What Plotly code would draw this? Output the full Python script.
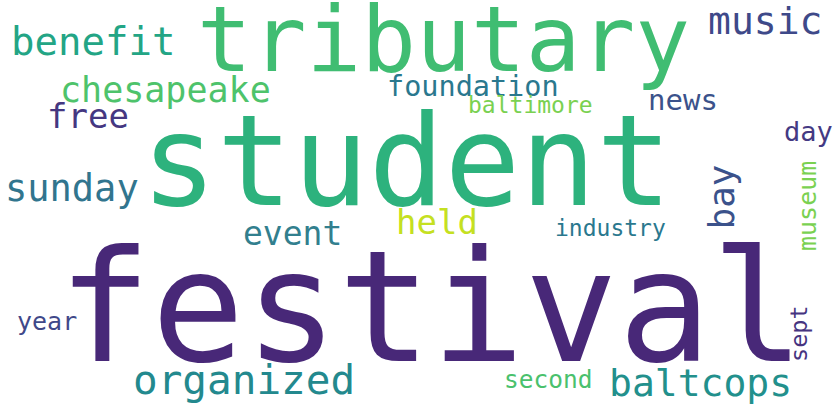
import plotly.graph_objects as go

# word cloud data
words = ["festival", "student", "tributary", "benefit", "chesapeake", "free",
         "sunday", "music", "foundation", "baltimore", "news", "day", "held",
         "event", "industry", "year", "organized", "second", "baltcops",
         "bay", "museum", "sept"]

# layout of the cloud (pixel space, y down)
word_x = [431, 406, 443, 93, 165, 88, 72, 765, 473, 530, 683, 808, 437,
          292, 610, 47, 244, 548, 700, 720.5, 807, 799]
word_y = [307.5, 161, 39, 41, 90, 116, 188, 21, 86, 105, 100, 131.5, 222,
          233.5, 228, 321, 380, 379.5, 383, 197, 206, 334]
font_px = [155, 126, 91, 39, 35, 34, 37, 38, 28.5, 23, 29, 27, 34,
           33, 23, 25, 41, 24.5, 38, 36, 25, 23.5]
angles = [0] * 19 + [-90, -90, -90]
colors = ["#482878", "#2db27d", "#40bd72", "#23a585", "#4ec36b", "#453781",
          "#31758e", "#3e4989", "#2a788e", "#7ad151", "#3b528b", "#443a83",
          "#c5e021", "#327f8e", "#2a788e", "#3f4889", "#23898e", "#4ac16d",
          "#22908c", "#3b528b", "#7ad151", "#463480"]

fig = go.Figure()
fig.add_trace(go.Scatter(x=[0, 837], y=[0, 418], mode="markers",
                         marker=dict(opacity=0), hoverinfo="skip"))

for w, x, y, s, a, c in zip(words, word_x, word_y, font_px, angles, colors):
    fig.add_annotation(x=x, y=y, xref="x", yref="y", text=w, showarrow=False,
                       textangle=a, xanchor="center", yanchor="middle",
                       font=dict(family="DejaVu Sans Mono", size=s, color=c))

fig.update_xaxes(range=[0, 837], visible=False)
fig.update_yaxes(range=[418, 0], visible=False)
fig.update_layout(width=837, height=418, margin=dict(l=0, r=0, t=0, b=0),
                  plot_bgcolor="white", paper_bgcolor="white", showlegend=False)
# page body has a default 8px margin, drop it so the plot fills the window
fig.write_html("out.html", config={"displayModeBar": False},
               post_script="document.body.style.margin='0';")
